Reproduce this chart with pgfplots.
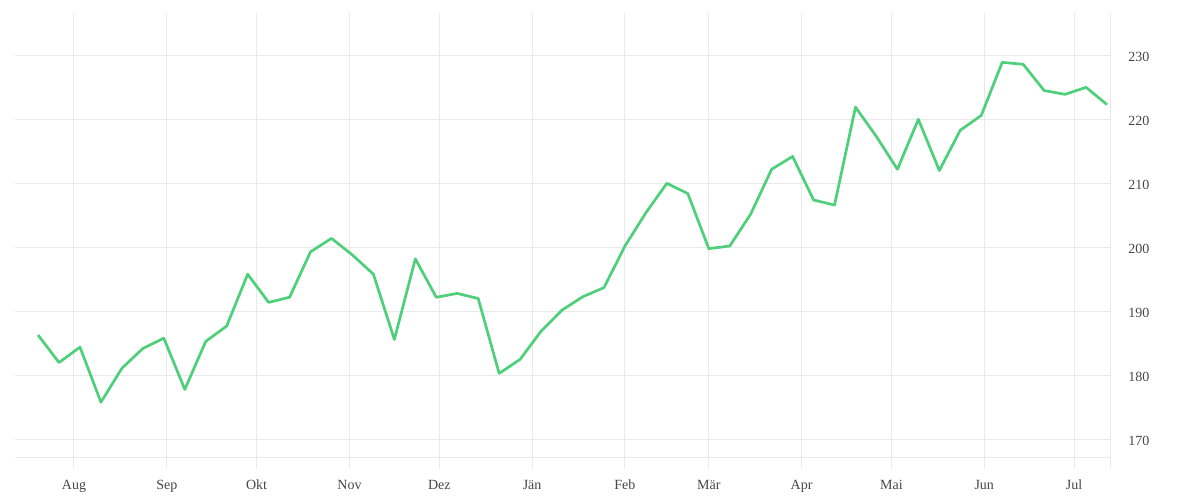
\documentclass[border=0pt]{standalone}
\usepackage{pgfplots}
\pgfplotsset{compat=1.18}
\usepackage{fontspec}
\setmainfont{Liberation Serif}
\definecolor{linegreen}{RGB}{78,208,122}
\definecolor{gridgray}{RGB}{233,233,233}
\definecolor{textgray}{RGB}{70,70,70}
\begin{document}
\begin{tikzpicture}
\path[use as bounding box] (0,0) rectangle (600pt,250pt);
\begin{axis}[
  at={(7.5pt,16pt)}, anchor=south west,
  scale only axis, width=547.5pt, height=227.65pt,
  xmin=-19.7, xmax=346.0, ymin=165.52, ymax=236.66,
  axis line style={draw=none},
  major tick length=0pt,
  xtick={0,31,61,92,122,153,184,212,243,273,304,334},
  xticklabels={Aug,Sep,Okt,Nov,Dez,Jän,Feb,Mär,Apr,Mai,Jun,Jul},
  ytick={170,180,190,200,210,220,230},
  yticklabel pos=right,
  extra x ticks={346.0}, extra x tick labels={},
  extra y ticks={167.1}, extra y tick labels={},
  extra tick style={grid=major, major grid style={gridgray, line width=0.5pt}},
  grid=major,
  major grid style={gridgray, line width=0.5pt},
  tick label style={font=\fontsize{7}{8}\selectfont, text=textgray},
  /pgf/number format/assume math mode=true,
  xticklabel style={anchor=base, inner sep=0pt, yshift=-10.5pt},
  yticklabel style={anchor=west, inner sep=0pt, xshift=9pt, yshift=-1pt},
  clip=false,
]
\addplot[linegreen, line width=1.35pt, line join=round] table[x=d, y=v] {
d v
-12 186.3
-5 182.0
2 184.4
9 175.8
16 181.1
23 184.2
30 185.8
37 177.8
44 185.3
51 187.7
58 195.8
65 191.4
72 192.2
79 199.3
86 201.4
93 198.8
100 195.8
107 185.6
114 198.2
121 192.2
128 192.8
135 192.0
142 180.3
149 182.5
156 186.9
163 190.2
170 192.3
177 193.7
184 200.2
191 205.4
198 210.0
205 208.4
212 199.8
219 200.2
226 205.2
233 212.2
240 214.2
247 207.4
254 206.6
261 221.9
268 217.3
275 212.2
282 220.0
289 212.0
296 218.3
303 220.6
310 228.9
317 228.6
324 224.5
331 223.9
338 225.0
345 222.3
};
\end{axis}
\end{tikzpicture}
\end{document}
